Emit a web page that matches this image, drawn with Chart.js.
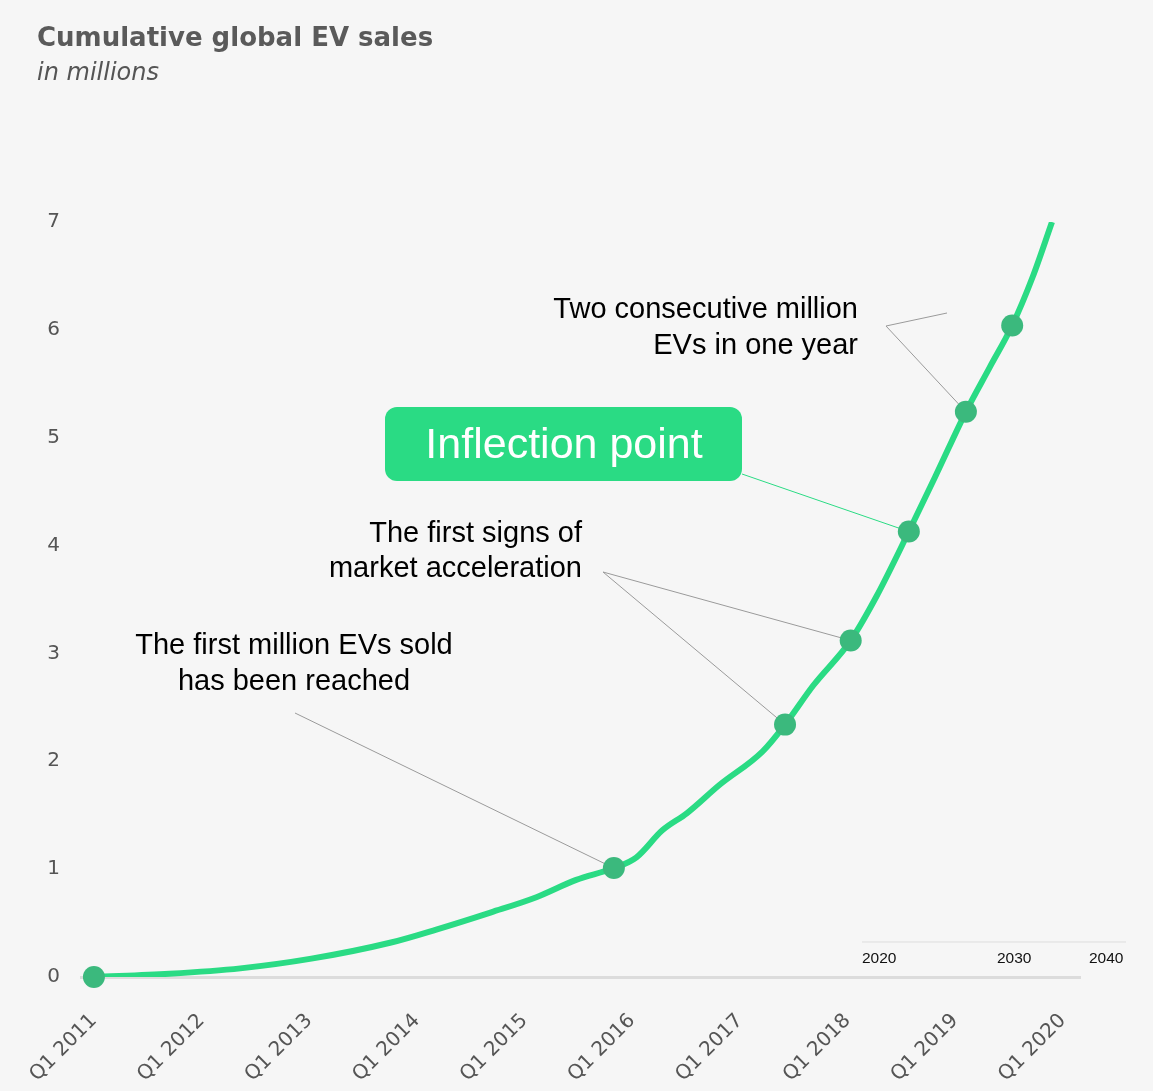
<!DOCTYPE html>
<html>
<head>
<meta charset="utf-8">
<script src="https://cdn.jsdelivr.net/npm/chart.js@4.4.1/dist/chart.umd.min.js"></script>
<style>
  html, body { margin: 0; padding: 0; background: #f6f6f6; }
  #wrap { width: 1153px; height: 1091px; position: relative; }
</style>
</head>
<body>
<div id="wrap"><canvas id="evChart"></canvas></div>
<script>
// cumulative sales curve (x in years, y in millions)
var curveX = [2011.0, 2011.70, 2012.36, 2013.02, 2013.76, 2014.18, 2014.69, 2015.11, 2015.48, 2015.83,
              2016.04, 2016.28, 2016.51, 2016.81, 2017.21, 2017.42, 2017.68, 2018.03, 2018.27, 2018.57,
              2018.83, 2019.10, 2019.32, 2019.53, 2019.72, 2019.90];
var curveY = [0, 0.03, 0.08, 0.17, 0.32, 0.44, 0.60, 0.74, 0.90, 1.01,
              1.11, 1.36, 1.52, 1.78, 2.09, 2.34, 2.70, 3.12, 3.53, 4.13,
              4.67, 5.24, 5.65, 6.04, 6.49, 7.0];

// highlighted milestones on the curve
var milestoneX = [2011.0, 2015.83, 2017.42, 2018.03, 2018.57, 2019.10, 2019.53];
var milestoneY = [0, 1.01, 2.34, 3.12, 4.13, 5.24, 6.04];

var tickYears = [2011, 2012, 2013, 2014, 2015, 2016, 2017, 2018, 2019, 2020];
var tickLabels = ['Q1 2011', 'Q1 2012', 'Q1 2013', 'Q1 2014', 'Q1 2015',
                  'Q1 2016', 'Q1 2017', 'Q1 2018', 'Q1 2019', 'Q1 2020'];
var insetLabels = ['2020', '2030', '2040'];

var lineGreen = '#2adb84';
var dotGreen = '#3bb97d';
var grey = '#555555';

function toXY(xs, ys) {
  return xs.map(function (v, i) { return { x: v, y: ys[i] }; });
}

// callouts: text blocks + leader lines pointing at milestones
var calloutPlugin = {
  id: 'callouts',
  beforeDatasetsDraw: function (chart) {
    var ctx = chart.ctx;
    var xs = chart.scales.x, ys = chart.scales.y;
    function pt(i) { return [xs.getPixelForValue(milestoneX[i]), ys.getPixelForValue(milestoneY[i])]; }
    ctx.save();
    ctx.lineWidth = 1;
    ctx.strokeStyle = '#9a9a9a';
    // first million
    var p = pt(1);
    ctx.beginPath(); ctx.moveTo(295, 713); ctx.lineTo(p[0], p[1]); ctx.stroke();
    // first signs of acceleration
    p = pt(3);
    ctx.beginPath(); ctx.moveTo(603, 572); ctx.lineTo(p[0], p[1]); ctx.stroke();
    p = pt(2);
    ctx.beginPath(); ctx.moveTo(603, 572); ctx.lineTo(p[0], p[1]); ctx.stroke();
    // two consecutive million
    p = pt(5);
    ctx.beginPath(); ctx.moveTo(947, 313); ctx.lineTo(886, 326); ctx.lineTo(p[0], p[1]); ctx.stroke();
    // inflection
    p = pt(4);
    ctx.strokeStyle = lineGreen;
    ctx.beginPath(); ctx.moveTo(742, 474); ctx.lineTo(p[0], p[1]); ctx.stroke();
    ctx.restore();
  },
  afterDraw: function (chart) {
    var ctx = chart.ctx;
    ctx.save();
    ctx.fillStyle = '#000';
    ctx.font = '29px "Liberation Sans", Arial, sans-serif';
    ctx.textBaseline = 'middle';
    ctx.textAlign = 'right';
    ctx.fillText('Two consecutive million', 858, 310);
    ctx.fillText('EVs in one year', 858, 346);
    ctx.fillText('The first signs of', 582, 534);
    ctx.fillText('market acceleration', 582, 569);
    ctx.textAlign = 'center';
    ctx.fillText('The first million EVs sold', 294, 646);
    ctx.fillText('has been reached', 294, 682);

    // inflection box
    ctx.fillStyle = lineGreen;
    ctx.beginPath();
    ctx.roundRect(385, 407, 357, 74, 12);
    ctx.fill();
    ctx.fillStyle = '#fff';
    ctx.font = '43px "Liberation Sans", Arial, sans-serif';
    ctx.fillText('Inflection point', 564, 446);

    // small leftover timeline in the corner
    ctx.strokeStyle = '#dddddd';
    ctx.lineWidth = 1;
    ctx.beginPath(); ctx.moveTo(862, 942); ctx.lineTo(1126, 942); ctx.stroke();
    ctx.fillStyle = '#111';
    ctx.font = '15.5px "Liberation Sans", Arial, sans-serif';
    ctx.textAlign = 'left';
    ctx.fillText(insetLabels[0], 862, 959);
    ctx.fillText(insetLabels[1], 997, 959);
    ctx.fillText(insetLabels[2], 1089, 959);
    ctx.restore();
  }
};

var ctx = document.getElementById('evChart').getContext('2d');
var evChart = new Chart(ctx, {
  type: 'line',
  data: {
    datasets: [
      {
        label: 'Milestones',
        data: toXY(milestoneX, milestoneY),
        showLine: false,
        pointRadius: 11,
        pointBackgroundColor: dotGreen,
        pointBorderWidth: 0,
        clip: false
      },
      {
        label: 'Cumulative EV sales',
        data: toXY(curveX, curveY),
        borderColor: lineGreen,
        borderWidth: 6,
        pointRadius: 0,
        cubicInterpolationMode: 'monotone',
        fill: false
      }
    ]
  },
  options: {
    responsive: true,
    maintainAspectRatio: false,
    animation: false,
    events: [],
    layout: { padding: { top: 24, left: 37, right: 73, bottom: 0 } },
    plugins: {
      legend: { display: false },
      tooltip: { enabled: false },
      title: {
        display: true,
        text: 'Cumulative global EV sales',
        align: 'start',
        color: '#5a5a5a',
        font: { family: 'DejaVu Sans', size: 26, weight: 'bold', lineHeight: 1.2 },
        padding: { top: 0, bottom: 0 }
      },
      subtitle: {
        display: true,
        text: 'in millions',
        align: 'start',
        color: grey,
        font: { family: 'DejaVu Sans', size: 24, style: 'italic', lineHeight: 1.2 },
        padding: { top: 4, bottom: 134 }
      }
    },
    scales: {
      x: {
        type: 'linear',
        min: 2010.88,
        max: 2020.16,
        grid: { display: false, drawTicks: false },
        border: { display: true, color: '#dcdcdc', width: 3 },
        afterBuildTicks: function (scale) {
          scale.ticks = tickYears.map(function (v) { return { value: v }; });
        },
        afterFit: function (scale) { scale.height = 114; },
        ticks: {
          minRotation: 45,
          maxRotation: 45,
          padding: 32,
          color: grey,
          font: { family: 'DejaVu Sans', size: 20 },
          callback: function (value, index) { return tickLabels[index]; }
        }
      },
      y: {
        min: 0,
        max: 7,
        grid: { display: false, drawTicks: false },
        border: { display: false },
        afterFit: function (scale) { scale.width = 44; },
        ticks: {
          stepSize: 1,
          padding: 21,
          color: grey,
          font: { family: 'DejaVu Sans', size: 20 }
        }
      }
    }
  },
  plugins: [calloutPlugin]
});
</script>
</body>
</html>
